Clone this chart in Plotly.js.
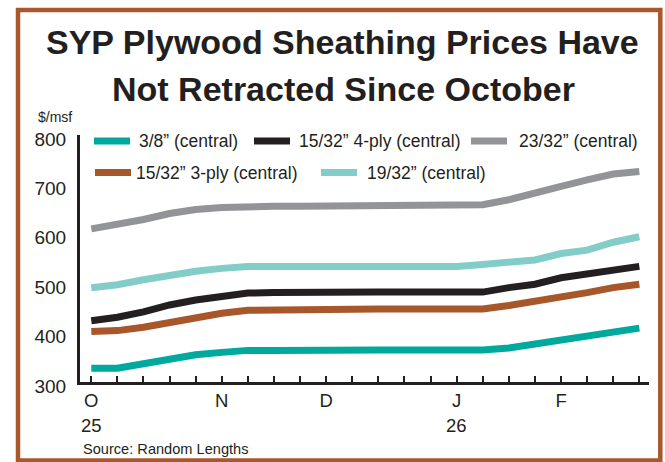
<!DOCTYPE html>
<html>
<head>
<meta charset="utf-8">
<script src="https://cdn.plot.ly/plotly-3.0.1.min.js"></script>
<style>html,body{margin:0;padding:0;background:#fff;}#chart{width:665px;height:462px;}</style>
</head>
<body>
<div id="chart"></div>
<script>
// weekly observations, Oct 2025 - Feb 2026 (index of week on the axis)
const weekIdx = [0,1,2,3,4,5,6,7,8,9,10,11,12,13,14,15,16,17,18,19,20,21];
const tickText = ['O','','','','','N','','','','D','','','','','J','','','','F','','',''];
const yearLabels = ['25','26'];
const yearAt = [0,14];

const seriesNames = ['3/8\u201D (central)','15/32\u201D 3-ply (central)','15/32\u201D 4-ply (central)','19/32\u201D (central)','23/32\u201D (central)'];
const s38     = [328,328,337,347,355,360,364,364,365,365,365,365,365,365,365,365,369,377,384,393,403,409];
const s1532_3 = [402,404,411,421,431,439,445,446,448,448,448,448,448,448,448,448,455,463,471,481,491,498];
const s1532_4 = [424,431,442,456,466,473,480,481,482,482,482,482,482,482,482,482,491,498,511,519,528,534];
const s1932   = [491,497,507,516,524,530,534,534,534,534,534,534,534,534,534,538,542,547,560,567,583,594];
const s2332   = [610,619,629,641,649,653,656,656,656,656,656,656,656,656,656,659,669,681,696,709,721,726];

const colors = ['#00A99D','#A8572B','#231F20','#82CDC7','#929497'];
const values = [s38, s1532_3, s1532_4, s1932, s2332];

const W = 665, H = 462, L = 80, R = 16, T = 135, B = 80;
const pw = W - L - R, ph = H - T - B;
const px = x => (x - L) / pw;
const py = y => (H - B - y) / ph;
const FONT = 'Liberation Sans, Arial, sans-serif';
const INK = '#231F20';

const traces = values.map((v, i) => ({
  x: weekIdx, y: v, type: 'scatter', mode: 'lines', name: seriesNames[i],
  line: {color: colors[i], width: 7}, hoverinfo: 'skip', showlegend: false
}));

// manual legend layout (two rows)
const legendPos = [
  {sx: 94, tx: 137, y: 141},   // 3/8
  {sx: 95, tx: 134, y: 172.5}, // 15/32 3-ply
  {sx: 254, tx: 297, y: 141},  // 15/32 4-ply
  {sx: 321, tx: 365, y: 172.5},// 19/32
  {sx: 471, tx: 517, y: 141}   // 23/32
];

const shapes = [];
const annotations = [];
legendPos.forEach((p, i) => {
  shapes.push({type: 'line', xref: 'paper', yref: 'paper', x0: px(p.sx), x1: px(p.sx + 36), y0: py(p.y), y1: py(p.y),
    line: {color: colors[i], width: 7}});
  annotations.push({xref: 'paper', yref: 'paper', x: px(p.tx), y: py(p.y), xanchor: 'left', yanchor: 'middle',
    text: seriesNames[i], showarrow: false, font: {family: FONT, size: 17.5, color: INK}});
});

// border
shapes.push({type: 'rect', xref: 'paper', yref: 'paper', x0: px(18), x1: px(660.3), y0: py(460.5), y1: py(10),
  line: {color: '#A9572B', width: 4.5}, layer: 'below'});

// title lines
annotations.push({xref: 'paper', yref: 'paper', x: px(342), y: py(42), xanchor: 'center', yanchor: 'middle',
  text: '<b>SYP Plywood Sheathing Prices Have</b>', showarrow: false, font: {family: FONT, size: 34, color: INK}});
annotations.push({xref: 'paper', yref: 'paper', x: px(343), y: py(89), xanchor: 'center', yanchor: 'middle',
  text: '<b>Not Retracted Since October</b>', showarrow: false, font: {family: FONT, size: 34, color: INK}});

// unit label
annotations.push({xref: 'paper', yref: 'paper', x: px(36), y: py(117), xanchor: 'left', yanchor: 'middle',
  text: '$/msf', showarrow: false, font: {family: FONT, size: 14, color: INK}});

// years
yearLabels.forEach((t, i) => {
  annotations.push({xref: 'x', yref: 'paper', x: yearAt[i], y: py(425), xanchor: 'center', yanchor: 'middle',
    text: t, showarrow: false, font: {family: FONT, size: 18.5, color: INK}});
});

// source
annotations.push({xref: 'paper', yref: 'paper', x: px(80.5), y: py(449), xanchor: 'left', yanchor: 'middle',
  text: 'Source: Random Lengths', showarrow: false, font: {family: FONT, size: 14.6, color: INK}});

const layout = {
  width: W, height: H,
  margin: {l: L, r: R, t: T, b: B, pad: 0},
  paper_bgcolor: '#fff', plot_bgcolor: '#fff',
  font: {family: FONT, color: INK},
  showlegend: false,
  xaxis: {
    range: [-0.433, 21.37], tickmode: 'array', tickvals: weekIdx, ticktext: tickText,
    ticks: 'inside', ticklen: 6, tickwidth: 2, tickcolor: INK,
    showline: true, linewidth: 3, linecolor: INK, showgrid: false, zeroline: false,
    tickfont: {family: FONT, size: 18.5, color: INK}, ticklabelstandoff: 0, fixedrange: true
  },
  yaxis: {
    range: [300, 800], tickmode: 'array', tickvals: [300,400,500,600,700,800],
    ticks: '', showline: true, linewidth: 3, linecolor: INK, showgrid: false, zeroline: false,
    tickfont: {family: FONT, size: 19, color: INK}, ticklabelstandoff: 7, ticklabelshift: 4, fixedrange: true
  },
  shapes: shapes,
  annotations: annotations
};

Plotly.newPlot('chart', traces, layout, {displayModeBar: false, staticPlot: true});
</script>
</body>
</html>
